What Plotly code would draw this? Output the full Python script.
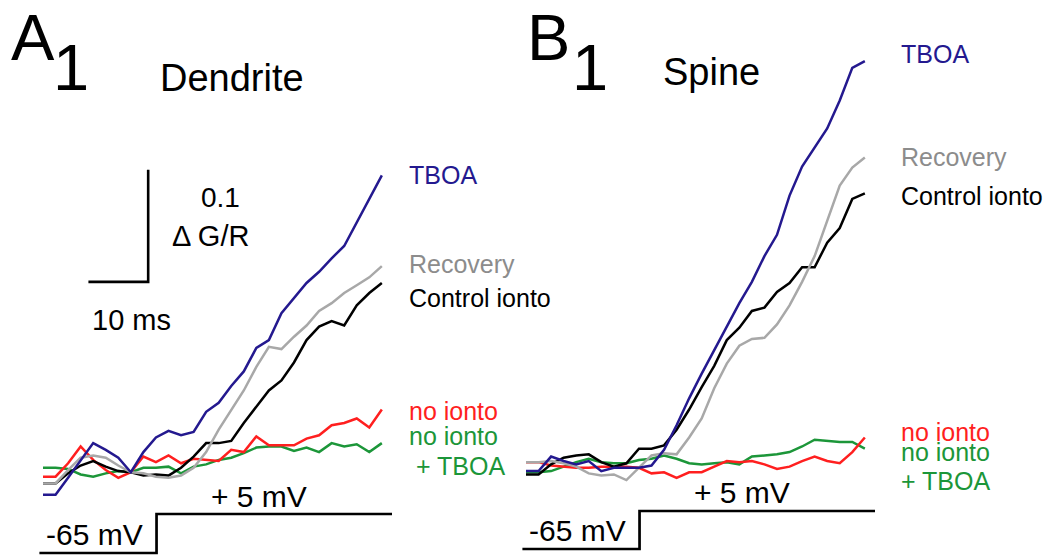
import plotly.graph_objects as go

W, H = 1058, 557
FONT = "Liberation Sans, Arial, sans-serif"

# ---------------- data ----------------
t_ms = [0.0, 2.1, 4.2, 6.3, 8.4, 10.5, 12.6, 14.7, 16.8, 18.9, 21.0, 23.1, 25.2, 27.3,
        29.4, 31.5, 33.6, 35.7, 37.8, 39.9, 42.0, 44.1, 46.2, 48.3, 50.4, 52.5, 54.6, 56.7]

# Panel A1 - Dendrite (delta G/R)
dend_tboa = [-0.022, -0.022, -0.007, 0.009, 0.024, 0.018, 0.011, -0.002, 0.016, 0.029, 0.035, 0.031, 0.034, 0.052,
             0.060, 0.075, 0.088, 0.109, 0.116, 0.140, 0.154, 0.167, 0.177, 0.189, 0.200, 0.221, 0.242, 0.263]
dend_control = [-0.012, -0.012, -0.003, 0.004, 0.008, 0.003, -0.001, -0.002, -0.005, -0.004, -0.005, 0.002, 0.012, 0.024,
                0.024, 0.026, 0.042, 0.057, 0.071, 0.080, 0.096, 0.116, 0.128, 0.133, 0.129, 0.147, 0.158, 0.167]
dend_recovery = [-0.012, -0.012, 0.000, 0.011, 0.013, 0.011, 0.004, -0.002, -0.003, -0.006, -0.007, -0.005, 0.002, 0.016,
                 0.036, 0.054, 0.071, 0.092, 0.110, 0.108, 0.119, 0.129, 0.142, 0.149, 0.158, 0.165, 0.172, 0.182]
dend_noionto = [-0.006, -0.006, 0.006, 0.021, 0.009, 0.000, -0.007, -0.002, 0.012, 0.007, 0.013, 0.006, 0.010, 0.009,
                0.008, 0.018, 0.016, 0.030, 0.022, 0.022, 0.022, 0.028, 0.031, 0.040, 0.042, 0.046, 0.038, 0.054]
dend_noionto_tboa = [0.002, 0.002, 0.001, -0.004, -0.006, -0.003, -0.001, -0.002, 0.002, 0.002, 0.003, -0.003, 0.003, 0.005,
                     0.009, 0.011, 0.015, 0.020, 0.021, 0.021, 0.017, 0.020, 0.016, 0.024, 0.021, 0.023, 0.016, 0.024]

# Panel B1 - Spine (delta G/R)
spine_tboa = [-0.001, -0.001, 0.012, 0.008, 0.005, 0.008, -0.001, 0.002, 0.002, 0.002, 0.004, 0.018, 0.040, 0.064,
              0.086, 0.107, 0.128, 0.149, 0.168, 0.191, 0.210, 0.245, 0.271, 0.288, 0.305, 0.330, 0.359, 0.365]
spine_control = [-0.004, -0.004, 0.005, 0.011, 0.013, 0.014, 0.007, 0.003, 0.006, 0.019, 0.019, 0.022, 0.036, 0.054,
                 0.074, 0.093, 0.116, 0.127, 0.142, 0.145, 0.159, 0.167, 0.181, 0.181, 0.203, 0.216, 0.242, 0.247]
spine_recovery = [0.007, 0.007, 0.008, 0.006, 0.003, -0.003, -0.005, -0.004, -0.009, 0.002, 0.013, 0.015, 0.014, 0.029,
                  0.046, 0.073, 0.095, 0.111, 0.117, 0.118, 0.130, 0.147, 0.168, 0.191, 0.223, 0.254, 0.270, 0.279]
spine_noionto = [0.007, 0.007, 0.004, 0.003, 0.002, 0.002, 0.003, 0.003, 0.003, 0.002, -0.003, -0.002, -0.007, -0.002,
                 -0.002, 0.003, 0.008, 0.007, 0.008, 0.005, 0.001, 0.003, 0.008, 0.012, 0.008, 0.006, 0.016, 0.029]
spine_noionto_tboa = [-0.002, -0.002, -0.001, 0.003, 0.007, 0.010, 0.007, 0.006, 0.006, 0.009, 0.010, 0.013, 0.010, 0.006,
                      0.005, 0.006, 0.007, 0.005, 0.012, 0.013, 0.014, 0.016, 0.021, 0.027, 0.026, 0.025, 0.025, 0.019]

# voltage-step protocol (ms, mV)
step_t = [-0.6, 19.0, 19.0, 58.4]
step_v = [-65, -65, 5, 5]

# scale bars
scale_t_ms = 10
scale_dgr = 0.1

# ---------------- styles ----------------
C_TBOA = "#24198f"
C_REC = "#a8a8a8"
C_REC_TXT = "#8c8c8c"
C_CTRL = "#000000"
C_RED = "#ff1f1f"
C_GREEN = "#1c9639"
LW = 2.5

# pixel geometry helpers (layout only)
PX_PER_MS = 5.976
PX_PER_UNIT = 1120.0
Y0_PX = 470.0
XA0_PX, XB0_PX = 43.0, 526.0


def xr(x0px):
    return [-x0px / PX_PER_MS, (W - x0px) / PX_PER_MS]


def vr(low_px, high_px):
    mv_per_px = 70.0 / (low_px - high_px)
    return [-65 - (H - low_px) * mv_per_px, -65 + low_px * mv_per_px]


fig = go.Figure()

series_A = [(dend_noionto_tboa, C_GREEN), (dend_noionto, C_RED), (dend_control, C_CTRL),
            (dend_recovery, C_REC), (dend_tboa, C_TBOA)]
series_B = [(spine_noionto_tboa, C_GREEN), (spine_noionto, C_RED), (spine_control, C_CTRL),
            (spine_recovery, C_REC), (spine_tboa, C_TBOA)]

for ys, c in series_A:
    fig.add_trace(go.Scatter(x=t_ms, y=ys, mode="lines", line=dict(color=c, width=LW),
                             xaxis="x", yaxis="y", showlegend=False, hoverinfo="skip"))
for ys, c in series_B:
    fig.add_trace(go.Scatter(x=t_ms, y=ys, mode="lines", line=dict(color=c, width=LW),
                             xaxis="x2", yaxis="y", showlegend=False, hoverinfo="skip"))

# protocol traces
fig.add_trace(go.Scatter(x=step_t, y=step_v, mode="lines", line=dict(color="black", width=2.7),
                         xaxis="x", yaxis="y2", showlegend=False, hoverinfo="skip"))
fig.add_trace(go.Scatter(x=step_t, y=step_v, mode="lines", line=dict(color="black", width=2.7),
                         xaxis="x2", yaxis="y3", showlegend=False, hoverinfo="skip"))

# scale bar (panel A), corner at 17.6 ms / 0.168
corner_t, corner_y = 17.6, 0.168
fig.add_trace(go.Scatter(x=[corner_t - scale_t_ms, corner_t, corner_t],
                         y=[corner_y, corner_y, corner_y + scale_dgr],
                         mode="lines", line=dict(color="black", width=2.6),
                         xaxis="x", yaxis="y", showlegend=False, hoverinfo="skip"))

hidden = dict(visible=False, fixedrange=True)
fig.update_layout(
    width=W, height=H,
    margin=dict(l=0, r=0, t=0, b=0, pad=0),
    paper_bgcolor="white", plot_bgcolor="white",
    xaxis=dict(domain=[0, 1], range=xr(XA0_PX), anchor="y", **hidden),
    xaxis2=dict(domain=[0, 1], range=xr(XB0_PX), overlaying="x", anchor="y", **hidden),
    yaxis=dict(domain=[0, 1], range=[-(H - Y0_PX) / PX_PER_UNIT, Y0_PX / PX_PER_UNIT], anchor="x", **hidden),
    yaxis2=dict(range=vr(553, 514), overlaying="y", anchor="x", **hidden),
    yaxis3=dict(range=vr(549, 511), overlaying="y", anchor="x", **hidden),
    showlegend=False,
)


def ann(text, left, baseline, size, color="black"):
    fig.add_annotation(
        text=text, showarrow=False, xref="paper", yref="paper",
        x=(left - 2) / W, y=1 - (baseline + 0.212 * size + 2) / H,
        xanchor="left", yanchor="bottom",
        font=dict(family=FONT, size=size, color=color),
    )


LS = 25  # trace label size

# Panel A labels
ann("A", 11, 60, 65)
ann("1", 53, 90, 65)
ann("Dendrite", 160, 91, 38)
ann("0.1", 201, 207, 28)
ann("Δ G/R", 172, 246, 29)
ann("10 ms", 92, 330, 29)
ann("TBOA", 409, 184, LS, C_TBOA)
ann("Recovery", 409, 273, LS, C_REC_TXT)
ann("Control ionto", 409, 307, LS)
ann("no ionto", 409, 420, LS, C_RED)
ann("no ionto", 409, 445, LS, C_GREEN)
ann("+ TBOA", 416, 475, LS, C_GREEN)
ann("+ 5 mV", 211, 507, 30)
ann("-65 mV", 46, 545, 30)

# Panel B labels
ann("B", 527, 60, 65)
ann("1", 572, 90, 65)
ann("Spine", 663, 85, 38)
ann("TBOA", 901, 63, LS, C_TBOA)
ann("Recovery", 901, 166, LS, C_REC_TXT)
ann("Control ionto", 901, 205, LS)
ann("no ionto", 901, 441, LS, C_RED)
ann("no ionto", 901, 461, LS, C_GREEN)
ann("+ TBOA", 901, 490, LS, C_GREEN)
ann("+ 5 mV", 694, 503, 30)
ann("-65 mV", 529, 541, 30)

fig.write_html("out.html")
